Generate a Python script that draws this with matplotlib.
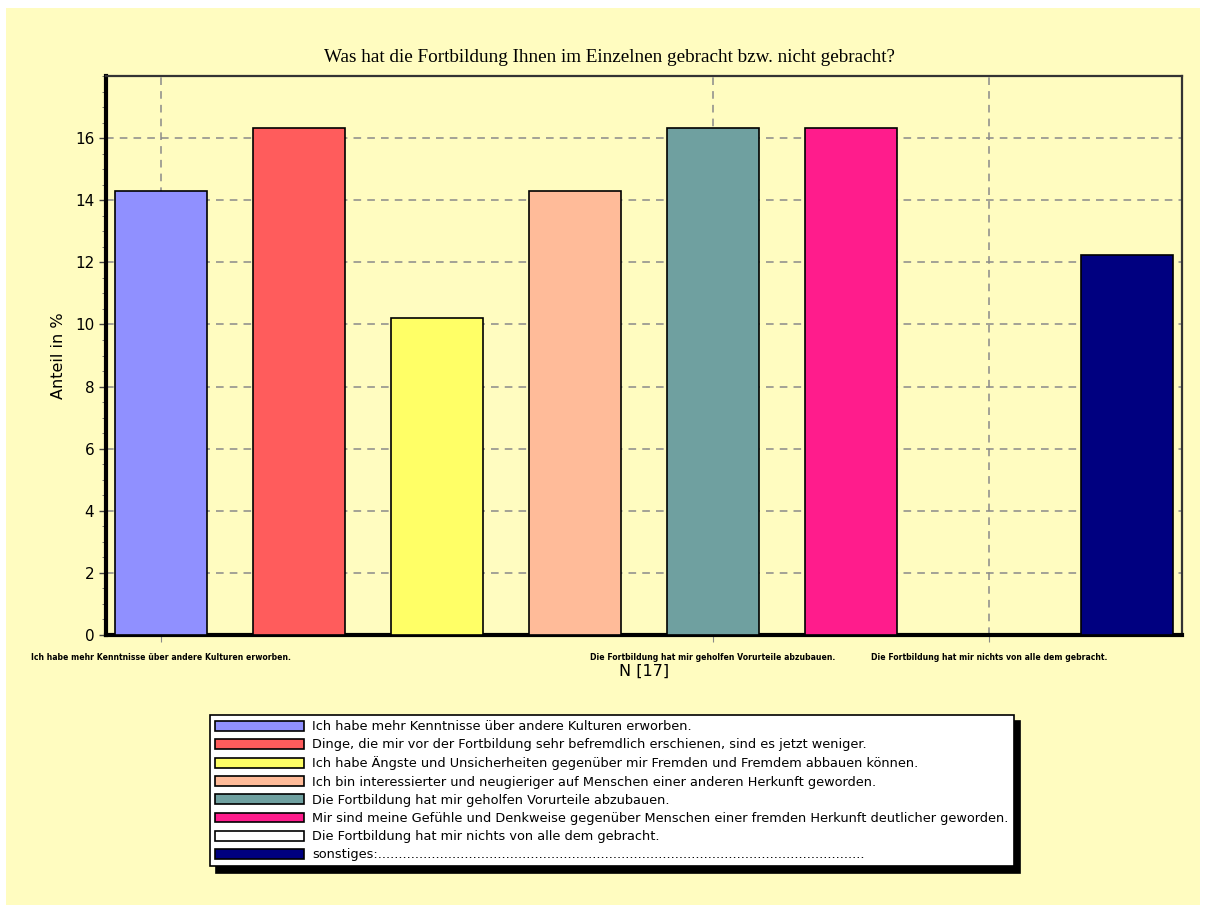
import matplotlib
matplotlib.use('Agg')
import matplotlib.pyplot as plt
from matplotlib.patches import Patch, Rectangle
from matplotlib.ticker import MultipleLocator

# Data (share in %, N = 17)
categories = [
    "Ich habe mehr Kenntnisse über andere Kulturen erworben.",
    "Dinge, die mir vor der Fortbildung sehr befremdlich erschienen, sind es jetzt weniger.",
    "Ich habe Ängste und Unsicherheiten gegenüber mir Fremden und Fremdem abbauen können.",
    "Ich bin interessierter und neugieriger auf Menschen einer anderen Herkunft geworden.",
    "Die Fortbildung hat mir geholfen Vorurteile abzubauen.",
    "Mir sind meine Gefühle und Denkweise gegenüber Menschen einer fremden Herkunft deutlicher geworden.",
    "Die Fortbildung hat mir nichts von alle dem gebracht.",
    "sonstiges:......................................................................................................................",
]
values = [14.29, 16.33, 10.20, 14.29, 16.33, 16.33, 0.0, 12.24]
colors = ['#9090ff', '#ff5c5c', '#ffff66', '#ffbb99', '#6fa0a0', '#ff1c8c', '#ffffff', '#000080']
labeled_ticks = [0, 4, 6]

bg = '#fffcc0'

fig = plt.figure(figsize=(12.05, 9.08), dpi=100, facecolor='white')
# yellow panel
fig.patches.append(Rectangle((6 / 1205, 3 / 908), 1194 / 1205, 897 / 908,
                             transform=fig.transFigure, facecolor=bg,
                             edgecolor='none', zorder=-10))

W, H = 1205, 908
ax = fig.add_axes([106 / W, 1 - 635 / H, (1182 - 106) / W, (635 - 76) / H])
ax.set_facecolor(bg)

x = list(range(len(values)))
ax.bar(x, values, width=0.667, color=colors, edgecolor='black', linewidth=1.2, zorder=3)

ax.set_xlim(-0.40, 7.40)
ax.set_ylim(0, 18)
ax.yaxis.set_major_locator(MultipleLocator(2))
ax.yaxis.set_minor_locator(MultipleLocator(0.5))
ax.set_yticks(range(0, 17, 2))
ax.set_xticks(labeled_ticks)
ax.set_xticklabels([categories[i] for i in labeled_ticks], fontsize=5.6,
                   fontweight='bold')
ax.tick_params(axis='y', labelsize=11, length=5, width=1, color='#444444')
ax.tick_params(axis='y', which='minor', length=3, color='#666666')
ax.tick_params(axis='x', length=5, color='#888888', pad=8)

ax.grid(True, color='#8a8a8a', linestyle=(0, (5, 4)), linewidth=1.1, zorder=0)

for side in ['left', 'bottom']:
    ax.spines[side].set_linewidth(3)
    ax.spines[side].set_color('black')
for side in ['top', 'right']:
    ax.spines[side].set_linewidth(1.6)
    ax.spines[side].set_color('#333333')

ax.set_ylabel('Anteil in %', fontsize=11.5, labelpad=6)
ax.set_xlabel('N [17]', fontsize=11.5, labelpad=1)
ax.set_title('Was hat die Fortbildung Ihnen im Einzelnen gebracht bzw. nicht gebracht?',
             fontsize=13.8, family='Liberation Serif', pad=10, x=0.468)

# legend
handles = [Patch(facecolor=c, edgecolor='black', linewidth=1.2) for c in colors]
leg = fig.legend(handles, categories, loc='upper left',
                 bbox_to_anchor=(210 / W, 1 - 715 / H),
                 fontsize=9.3, frameon=True, fancybox=False,
                 edgecolor='black', facecolor='white', framealpha=1,
                 handlelength=6.9, handleheight=0.8, handletextpad=0.6,
                 labelspacing=0.40, borderpad=0.4, borderaxespad=0,
                 shadow={'ox': 4.5, 'oy': -4.5, 'facecolor': 'black',
                         'edgecolor': 'black', 'alpha': 1})
leg.get_frame().set_linewidth(1.2)

plt.savefig('out.png', dpi=100, facecolor='white')
